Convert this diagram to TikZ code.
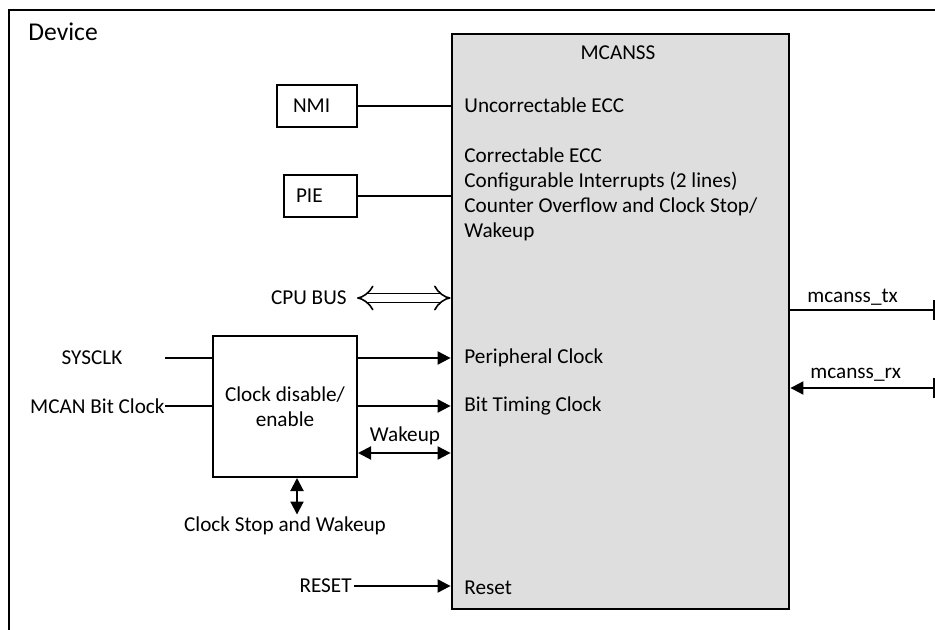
\documentclass[tikz,border=0pt]{standalone}
\usepackage{fontspec}
\setmainfont{Carlito}
\usetikzlibrary{arrows.meta,positioning}

\tikzset{
  lbl/.style={inner sep=1pt, font=\fontsize{10.6}{12.5}\selectfont},
  blk/.style={draw, line width=1pt, fill=white, font=\fontsize{10.6}{12.5}\selectfont},
  mcbox/.style={draw, line width=1.4pt, fill=mcgray},
  wire/.style={line width=1pt},
  sig/.style={line width=1pt, -{Triangle[length=6.5pt,width=6.5pt]}},
  sigboth/.style={line width=1pt, {Triangle[length=6.5pt,width=6.5pt]}-{Triangle[length=6.5pt,width=6.5pt]}},
  bus/.style={double, line width=0.8pt, double distance=3.6pt, {Implies[length=7pt,width=14pt]}-{Implies[length=7pt,width=14pt]}}
}
\definecolor{mcgray}{HTML}{DEDEDE}

\begin{document}
\begin{tikzpicture}[x=0.5pt,y=-0.5pt]
\clip (0,0) rectangle (935,630);
% device frame
\draw[wire] (945,10) -- (9,10) -- (9,640);
\node[lbl, anchor=west, font=\fontsize{12.8}{15}\selectfont] (device) at (26,32) {Device};
%
% MCANSS block
\node[mcbox, minimum width=168.5pt, minimum height=287.5pt] (mcanss) at (620.5,321.5) {};
\node[lbl] (mctitle) at (618,53) {MCANSS};
\node[lbl, anchor=west] (uecc) at (462,105) {Uncorrectable ECC};
\node[lbl, anchor=west, align=left] (intr) at (462,194.5) {Correctable ECC\\Configurable Interrupts (2 lines)\\Counter Overflow and Clock Stop/\\Wakeup};
\node[lbl, anchor=west] (pclk) at (462,358) {Peripheral Clock};
\node[lbl, anchor=west] (btclk) at (462,406) {Bit Timing Clock};
\node[lbl, anchor=west] (rst) at (462,588) {Reset};
%
% interrupt targets
\node[blk, minimum height=21pt, text width=24pt, inner xsep=8pt] (nmi) at (317,106) {NMI};
\node[blk, minimum height=21pt, text width=24.5pt, inner xsep=6pt] (pie) at (320.5,196) {PIE};
\draw[wire] (nmi.east) -- (nmi -| mcanss.west);
\draw[wire] (pie.east) -- (pie -| mcanss.west);
%
% bus
\node[lbl, anchor=east] (cpubus) at (349,298) {CPU BUS};
\draw[bus] ([xshift=4pt]cpubus.east) -- (cpubus -| mcanss.west);
%
% clock gating
\node[blk, minimum width=72pt, minimum height=70.5pt, align=center] (clkctl) at (285,406.5) {Clock disable/\\enable};
\draw[sig] (clkctl.east |- pclk) -- (pclk -| mcanss.west);
\draw[sig] (clkctl.east |- btclk) -- (btclk -| mcanss.west);
\coordinate (wk) at (400,453);
\node[lbl] (wklbl) at (405,436) {Wakeup};
\draw[sigboth] (clkctl.east |- wk) -- (wk -| mcanss.west);
%
\node[lbl] (sysclk) at (92,358) {SYSCLK};
\coordinate (sysin) at (165,358);
\draw[wire] (sysin) -- (sysin -| clkctl.west);
\node[lbl, anchor=east, inner sep=0pt] (mbclk) at (165,406) {MCAN Bit Clock};
\draw[wire] (mbclk.east) -- (mbclk -| clkctl.west);
%
\node[lbl] (cstop) at (285,526) {Clock Stop and Wakeup};
\draw[sigboth] ([xshift=6pt]clkctl.south) -- ([xshift=6pt]cstop.north);
%
\node[lbl, anchor=east] (reset) at (354,586) {RESET};
\draw[sig] (reset.east) -- (reset -| mcanss.west);
%
% pins
\node[draw, line width=1pt, minimum width=20pt, minimum height=9pt, anchor=west] (txpin) at (933,310) {};
\node[draw, line width=1pt, minimum width=20pt, minimum height=9pt, anchor=west] (rxpin) at (933,388) {};
\node[lbl, anchor=west] (txlbl) at (805,297) {mcanss\_tx};
\node[lbl, anchor=west] (rxlbl) at (808,375) {mcanss\_rx};
\draw[wire] (mcanss.east |- txpin) -- (txpin.west);
\draw[sig] (rxpin.west) -- (rxpin -| mcanss.east);
\end{tikzpicture}
\end{document}
